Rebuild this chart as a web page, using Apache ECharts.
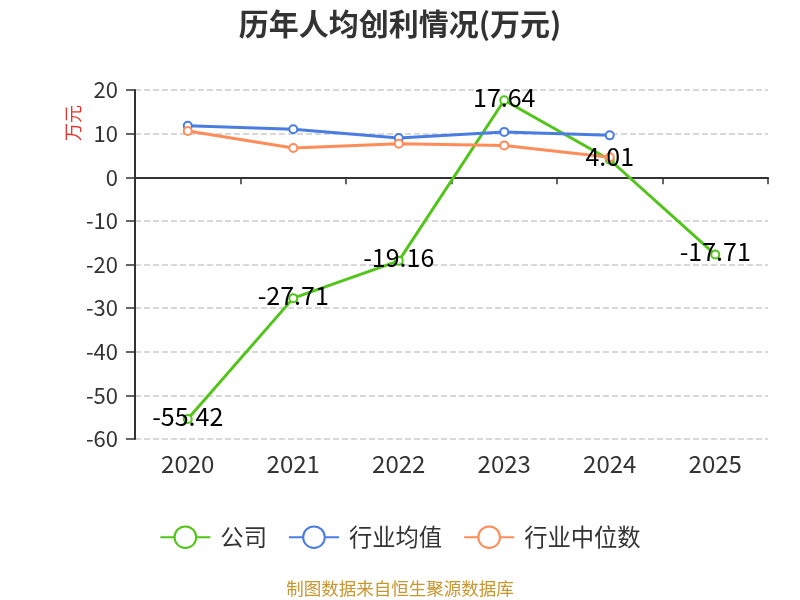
<!DOCTYPE html>
<html>
<head>
<meta charset="utf-8">
<script src="https://cdn.jsdelivr.net/npm/echarts@6/dist/echarts.min.js"></script>
<style>
  html, body { margin: 0; padding: 0; background: #fff; }
  #chart { width: 800px; height: 600px; }
</style>
</head>
<body>
<div id="chart"></div>
<script>
// data
var years = ['2020', '2021', '2022', '2023', '2024', '2025'];
var company = [-55.42, -27.71, -19.16, 17.64, 4.01, -17.71];
var industryAvg = [11.8, 11.0, 9.0, 10.4, 9.6];
var industryMedian = [10.6, 6.7, 7.7, 7.3, 4.6];
var yTicks = { min: -60, max: 20, interval: 10 };

var chart = echarts.init(document.getElementById('chart'));
var font = '"Microsoft YaHei", "Noto Sans CJK SC", sans-serif';

var option = {
  textStyle: { fontFamily: font },
  title: {
    text: '历年人均创利情况(万元)',
    left: 'center',
    top: 4,
    textStyle: { fontSize: 30, fontWeight: 'bold', color: '#333', fontFamily: font }
  },
  legend: {
    bottom: 46,
    left: 'center',
    itemWidth: 50,
    itemHeight: 27,
    itemGap: 21,
    textStyle: { fontSize: 23.3, color: '#333', padding: [0, 0, 0, 5] },
    data: ['公司', '行业均值', '行业中位数']
  },
  grid: { left: 135, right: 32, top: 90, bottom: 161 },
  xAxis: [{
    type: 'category',
    data: years,
    axisLine: { onZero: true, lineStyle: { color: '#333', width: 2 } },
    axisTick: { show: true, length: 7, lineStyle: { color: '#333', width: 1.5 } },
    axisLabel: { show: false }
  }, {
    type: 'category',
    data: years,
    position: 'bottom',
    axisLine: { show: false, onZero: false },
    axisTick: { show: false },
    axisLabel: { fontSize: 24, color: '#333', margin: 13 }
  }],
  yAxis: {
    type: 'value',
    min: yTicks.min,
    max: yTicks.max,
    interval: yTicks.interval,
    axisLine: { show: true, lineStyle: { color: '#333', width: 2 } },
    axisTick: { show: true, length: 9, lineStyle: { color: '#333', width: 1.5 } },
    axisLabel: { fontSize: 22, color: '#333', margin: 17 },
    splitLine: { lineStyle: { type: 'dashed', color: '#ccc', width: 1.5 } }
  },
  graphic: [{
    type: 'text',
    left: 64,
    top: 105,
    rotation: Math.PI / 2,
    style: { text: '万元', fill: '#e8332e', fontSize: 18, fontFamily: font }
  }, {
    type: 'text',
    left: 'center',
    bottom: 3,
    style: { text: '制图数据来自恒生聚源数据库', fill: '#c8962e', fontSize: 17.5, fontFamily: font }
  }],
  series: [
    {
      name: '公司',
      type: 'line',
      data: company,
      symbol: 'emptyCircle',
      symbolSize: 8,
      lineStyle: { width: 3 },
      itemStyle: { color: '#52c41a' },
      label: {
        show: true,
        position: 'inside',
        offset: [0, -3],
        fontSize: 25,
        color: '#000',
        fontFamily: font
      },
      z: 3
    },
    {
      name: '行业均值',
      type: 'line',
      data: industryAvg,
      symbol: 'emptyCircle',
      symbolSize: 8,
      lineStyle: { width: 3 },
      itemStyle: { color: '#4a7de2' }
    },
    {
      name: '行业中位数',
      type: 'line',
      data: industryMedian,
      symbol: 'emptyCircle',
      symbolSize: 8,
      lineStyle: { width: 3 },
      itemStyle: { color: '#ff8c59' }
    }
  ]
};
chart.setOption(option);
</script>
</body>
</html>
